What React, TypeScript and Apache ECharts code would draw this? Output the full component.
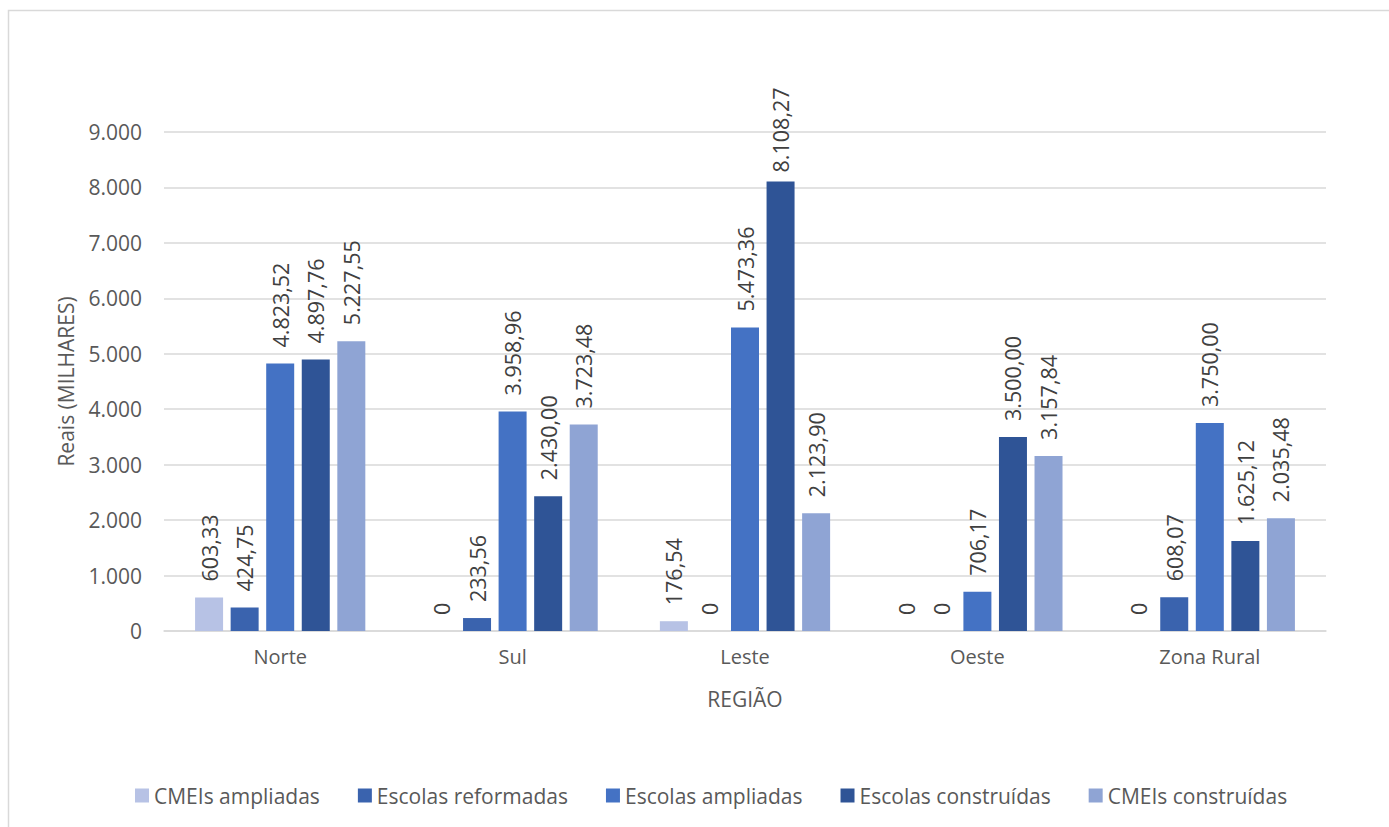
import React, { useEffect, useRef } from "react";
import * as echarts from "echarts";

const categories = ["Norte", "Sul", "Leste", "Oeste", "Zona Rural"];
const seriesNames = [
  "CMEIs ampliadas",
  "Escolas reformadas",
  "Escolas ampliadas",
  "Escolas construídas",
  "CMEIs construídas",
];
const cmeisAmpliadas = [603.33, 0, 176.54, 0, 0];
const escolasReformadas = [424.75, 233.56, 0, 0, 608.07];
const escolasAmpliadas = [4823.52, 3958.96, 5473.36, 706.17, 3750.0];
const escolasConstruidas = [4897.76, 2430.0, 8108.27, 3500.0, 1625.12];
const cmeisConstruidas = [5227.55, 3723.48, 2123.9, 3157.84, 2035.48];
const seriesColors = ["#B7C2E5", "#3A63AE", "#4472C4", "#2F5496", "#8FA4D4"];

const FONT = "'Open Sans', 'Noto Sans', sans-serif";

function fmtLabel(v: number): string {
  if (v === 0) return "0";
  const [i, d] = v.toFixed(2).split(".");
  const withSep = i.replace(/\B(?=(\d{3})+(?!\d))/g, ".");
  return withSep + "," + d;
}
function fmtAxis(v: number): string {
  return String(Math.round(v)).replace(/\B(?=(\d{3})+(?!\d))/g, ".");
}

export default function App() {
  const ref = useRef<HTMLDivElement>(null);
  useEffect(() => {
    if (!ref.current) return;
    const chart = echarts.init(ref.current, null, { renderer: "svg" });
    const allData = [
      cmeisAmpliadas,
      escolasReformadas,
      escolasAmpliadas,
      escolasConstruidas,
      cmeisConstruidas,
    ];
    const yMax = 9000;
    chart.setOption({
      animation: false,
      backgroundColor: "#ffffff",
      textStyle: { fontFamily: FONT },
      graphic: [
        {
          type: "rect",
          shape: { x: 8.5, y: 10.5, width: 1500, height: 900 },
          style: { fill: "none", stroke: "#d9d9d9", lineWidth: 1.5 },
          silent: true,
        },
      ],
      grid: { left: 164, right: 63, top: 132, bottom: 196, containLabel: false },
      legend: {
        top: 780,
        left: 130,
        itemWidth: 14,
        itemHeight: 14,
        itemGap: 38,
        icon: "rect",
        textStyle: { fontSize: 21, color: "#595959", fontFamily: FONT },
        data: seriesNames,
      },
      xAxis: {
        type: "category",
        data: categories,
        name: "REGIÃO",
        nameLocation: "middle",
        nameGap: 57,
        nameTextStyle: { fontSize: 21, color: "#595959", fontFamily: FONT },
        axisLine: { lineStyle: { color: "#d9d9d9", width: 1.5 } },
        axisTick: { show: false },
        axisLabel: { fontSize: 20, color: "#595959", margin: 15, fontFamily: FONT },
      },
      yAxis: {
        type: "value",
        min: 0,
        max: yMax,
        interval: 1000,
        name: "Reais (MILHARES)",
        nameLocation: "middle",
        nameGap: 88,
        nameTextStyle: { fontSize: 21, color: "#595959", fontFamily: FONT },
        axisLine: { show: false },
        axisTick: { show: false },
        splitLine: { lineStyle: { color: "#d9d9d9", width: 1.5 } },
        axisLabel: {
          fontSize: 21,
          color: "#595959",
          margin: 22,
          fontFamily: FONT,
          formatter: (v: number) => fmtAxis(v),
        },
      },
      series: seriesNames.map((name, idx) => ({
        name,
        type: "bar",
        data: allData[idx].map((v) =>
          v > 0.85 * yMax ? { value: v, label: { distance: 9 } } : v
        ),
        barWidth: 28,
        barGap: "27%",
        itemStyle: { color: seriesColors[idx] },
        label: {
          show: true,
          position: "top",
          rotate: 90,
          align: "left",
          verticalAlign: "middle",
          distance: 16,
          fontSize: 21.5,
          color: "#404040",
          fontFamily: FONT,
          formatter: (p: any) => fmtLabel(p.value),
        },
      })),
    });
    return () => chart.dispose();
  }, []);
  return (
    <div
      ref={ref}
      style={{ position: "absolute", left: 0, top: 0, width: 1389, height: 827 }}
    />
  );
}
